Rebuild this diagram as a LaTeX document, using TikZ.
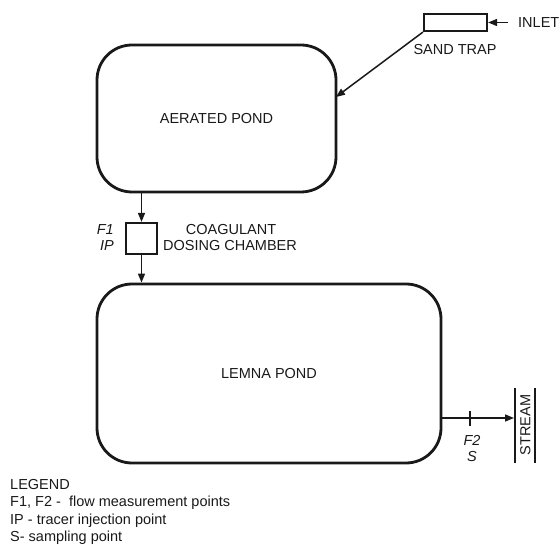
\documentclass[tikz,border=0pt]{standalone}
\usepackage{fontspec}
\setmainfont{Liberation Sans}
\usetikzlibrary{arrows.meta,calc}
\begin{document}
\begin{tikzpicture}[x=1pt,y=-1pt,
  every node/.style={font=\fontsize{14.5}{16}\selectfont, text=black!90, inner sep=0pt},
  pond/.style={draw=black!90, line width=2.8pt, rounded corners=35pt},
  box/.style={draw=black!90, line width=2.2pt},
  arr/.style={draw=black!90, line width=1.5pt, -{Triangle[length=9pt,width=7pt]}},
  plain/.style={draw=black!90, line width=1.5pt},
  lbl/.style={font=\fontsize{14.5}{16}\selectfont\itshape}]
\useasboundingbox (0,0) rectangle (560,545);
% ponds
\node[pond, minimum width=239pt, minimum height=147pt] (aer) at (216.5,118.5) {AERATED POND};
\node[pond, minimum width=344pt, minimum height=179pt] (lem) at (269,373.5) {LEMNA POND};
% sand trap
\node[box, minimum width=63pt, minimum height=17pt] (st) at (455.5,22.5) {};
\coordinate (inl) at (508,22.5);
\node[anchor=west] (inlet) at (518,22.5) {INLET};
\node (sandtrap) at (455,50) {SAND TRAP};
\draw[arr] (inl) -- (st.east);
\coordinate (aerin) at (336,97);
\draw[arr] (st.south west) -- (aerin);
% dosing chamber
\node[box, minimum width=31pt, minimum height=31pt] (dc) at (141.5,238.5) {};
\draw[arr] (aer.south -| dc.north) -- (dc.north);
\draw[arr] (dc.south) -- (dc.south |- lem.north);
\node[lbl, anchor=east] (f1) at (114,230) {F1};
\node[lbl, anchor=east] (ip) at (114,246) {IP};
\node (coag) at (231,230) {COAGULANT};
\node (dosing) at (230,246) {DOSING CHAMBER};
% outlet
\coordinate (strm) at (514,418);
\draw[arr] (lem.east |- strm) -- (strm);
\coordinate (tk1) at (470,411);
\coordinate (tk2) at (470,426);
\draw[plain] (tk1) -- (tk2);
\node[lbl] (f2) at (472,440) {F2};
\node[lbl] (s) at (472,457) {S};
\coordinate (sa1) at (515,388);
\coordinate (sa2) at (515,463);
\coordinate (sb1) at (535,388);
\coordinate (sb2) at (535,463);
\draw[plain] (sa1) -- (sa2);
\draw[plain] (sb1) -- (sb2);
\node[rotate=90] (stream) at (525.5,425) {STREAM};
% legend
\node[anchor=west] (lg0) at (10,485) {LEGEND};
\node[anchor=west] (lg1) at (10,503) {F1, F2 -\ \ flow measurement points};
\node[anchor=west] (lg2) at (10,521) {IP - tracer injection point};
\node[anchor=west] (lg3) at (10,538) {S- sampling point};
\end{tikzpicture}
\end{document}
